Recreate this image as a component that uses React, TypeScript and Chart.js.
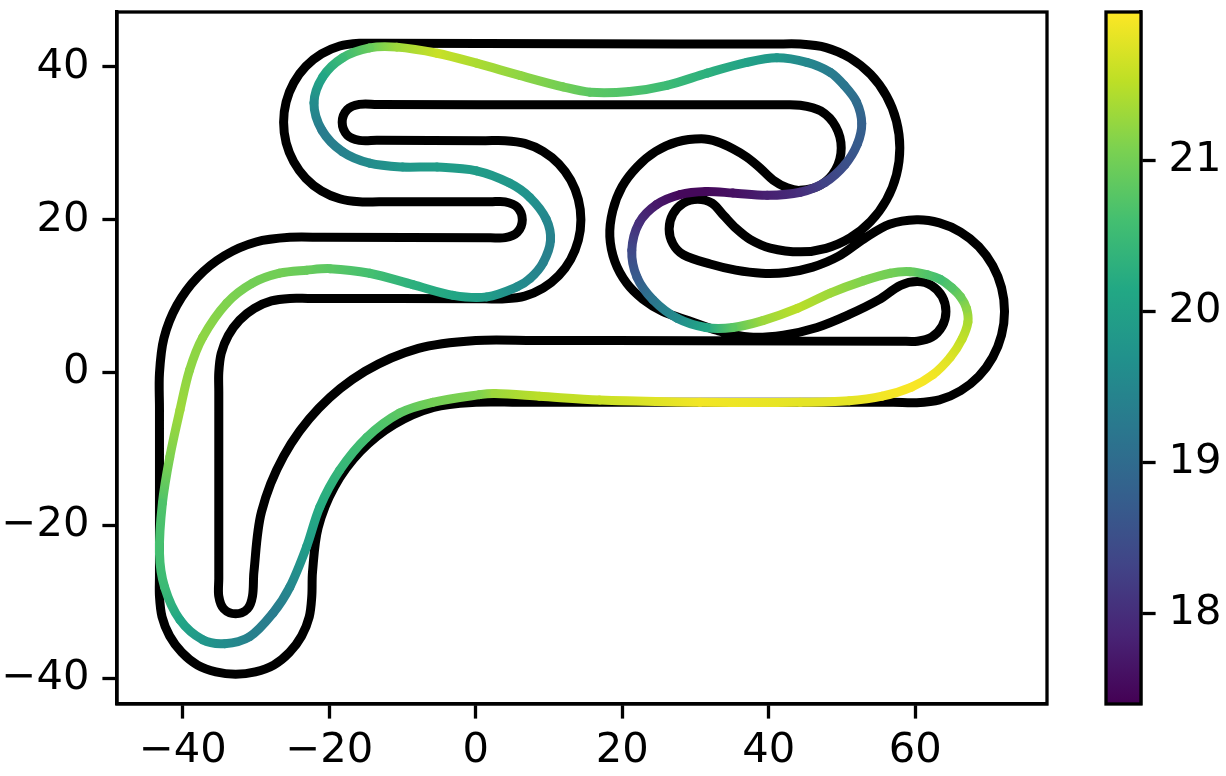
import React, { useEffect, useRef } from "react";
import { Chart, registerables } from "chart.js";

Chart.register(...registerables);

const outerX = [30,57,60.2,63.31,66.2,68.69,70.59,71.79,72.2,71.79,70.59,68.69,66.2,63.31,60.2,56.5,53,49.5,46,42.5,39,35.5,32,28.35,26.92,26.4,26.92,28.35,30.3,32.25,33.9,35.5,37.5,40.2,44.3,47.82,51.1,53.92,56.08,57.44,57.9,57.44,56.08,53.92,51.1,47.82,44.3,40.8,15,-13.2,-15.9,-18.58,-21.08,-23.22,-24.86,-25.9,-26.25,-25.9,-24.86,-23.22,-21.08,-18.58,-15.9,-13.2,2,4,5.66,6.35,5.66,4,2,-20.8,-25.4,-30.01,-34.3,-37.99,-40.82,-42.59,-43.2,-43.2,-43.2,-43.2,-42.85,-41.81,-40.15,-38,-35.49,-32.8,-30.11,-27.6,-25.45,-23.79,-22.75,-22.4,-22.3,-21.54,-19.31,-15.77,-11.15,-5.77,0,5.8,30];
const outerY = [-3.9,-3.9,-3.95,-3.59,-2.39,-0.49,2,4.89,8,11.11,14,16.49,18.39,19.59,20,19.4,17.5,15.2,13.8,13.1,13,13.4,14.2,15.42,16.85,18.8,20.75,22.18,22.7,22.18,20.5,18.9,17.4,16.3,15.8,16.26,17.62,19.78,22.6,25.88,29.4,32.92,36.2,39.02,41.18,42.54,43,43,43.05,43.1,43.1,42.75,41.71,40.07,37.93,35.43,32.75,30.07,27.58,25.43,23.79,22.75,22.35,22.35,22.35,22.35,21.66,20,18.34,17.65,17.65,17.7,17.7,17.09,15.32,12.49,8.8,4.51,-0.1,-4.7,-26.6,-29.3,-31.99,-34.5,-36.65,-38.31,-39.2,-39.5,-39.2,-38.31,-36.65,-34.5,-31.99,-29.3,-26.1,-20.33,-14.95,-10.33,-6.79,-4.56,-3.9,-3.9,-3.9];

const innerX = [30,58,60.3,62.25,63.68,64.2,63.68,62.25,60.3,58,55,51,46.6,42,37.4,33,29,25.5,22.8,20.6,19,18.3,18.7,19.98,22,24.55,27.5,30.8,33,35.1,37,38.8,40.6,42.5,44.3,47.1,49.15,49.9,49.15,47.1,44.3,41.4,15,-13.5,-15.9,-17.56,-18.25,-17.56,-15.9,-13.5,1.3,4,6.68,9.18,11.32,12.96,14,14.35,14,12.96,11.32,9.18,6.68,4,1.3,-22.9,-25.4,-27.91,-30.25,-32.26,-33.8,-34.77,-35.1,-35.1,-35.1,-35.1,-34.43,-32.8,-31.17,-30.5,-30.3,-29.27,-26.24,-21.43,-15.15,-7.84,0,8,30];
const innerY = [4.15,4.1,4.1,4.62,6.05,8,9.95,11.38,11.9,11.4,9.5,7.6,5.9,4.9,4.65,5.5,6.8,8,9.6,11.7,14.5,17.8,21.2,24.35,26.9,28.93,30.2,30.6,30.2,29.3,28.2,26.8,25.2,24.2,23.85,24.55,26.6,29.4,32.2,34.25,35,35.05,35.05,35.1,35.1,34.41,32.75,31.09,30.4,30.4,30.35,30.35,30,28.96,27.32,25.18,22.68,20,17.32,14.82,12.68,11.04,10,9.65,9.65,9.7,9.7,9.37,8.4,6.86,4.85,2.51,0,-2.5,-27,-29.3,-30.93,-31.6,-30.93,-29.3,-26.1,-18.26,-10.95,-4.67,0.14,3.17,4.2,4.2,4.15];

const raceX = [30.6,44.3,51,55.5,59.5,62.4,64.8,66.4,67.2,67,66.2,65,63.4,61.7,59.3,56.6,52.9,48.4,43.9,39.2,35.1,31.4,27.5,24.2,22,21.3,22.3,24.7,27.9,31.4,35.1,39.8,44.3,47.7,50.4,52.1,52.7,52,50.3,48.4,45.2,41.1,37,31.6,26.1,21,15.6,11.9,6,0.1,-5.3,-10.8,-14.5,-18.2,-20.9,-22.1,-21,-18.2,-14.5,-10,-5.3,0.1,4.6,7.4,9.6,10.2,9.2,7.4,5.6,1.5,-3.1,-8.6,-14.5,-19.9,-23.1,-26.8,-30.5,-34,-37.3,-39.1,-40.4,-41.8,-42.8,-43.2,-42.5,-40.4,-37.3,-34.3,-30.9,-27.7,-25.4,-23.1,-21.3,-18.6,-14.9,-10.4,-5.9,0.5,2.6,8.7,16.9,30.6];
const raceY = [-3.9,-3.9,-3.7,-3.1,-1.9,-0.3,2,4.4,6.6,8.4,9.9,11.1,12.2,12.8,13.2,13,12,10.4,8.4,6.8,5.9,5.9,7.1,9.5,12.5,16,19.6,22,23.3,23.7,23.5,23.2,23.6,24.9,27.2,29.9,32.6,35.4,37.6,39.3,40.6,41.2,40.6,39.2,37.6,36.8,36.7,37.4,38.9,40.5,41.8,42.6,42.5,41.2,38.7,35.3,31.7,28.9,27.4,26.9,26.9,26.4,24.8,22.9,20.1,17.3,14.4,12.3,11.2,9.9,10.1,11.5,13,13.6,13.4,13,11.7,9.1,4.6,0.3,-4.9,-11.1,-17.1,-23.6,-28.1,-32.4,-35,-35.5,-34.6,-31.5,-28.1,-22.8,-17.6,-12.8,-8.5,-5.3,-3.9,-2.9,-2.75,-3.1,-3.6,-3.9];
const raceSpeed = [21.9,21.8,21.8,21.9,21.95,21.9,21.75,21.55,21.4,21.2,20.95,20.75,20.6,20.7,20.9,21,21.1,21.3,21.5,21.3,20.8,20.1,19.6,19.2,18.7,18.4,18,17.7,17.5,17.5,17.6,17.8,18,18.3,18.5,18.7,18.8,19,19.2,19.3,19.5,19.8,20,20.3,20.5,20.7,20.8,21,21.2,21.4,21.6,21.3,20.9,20.5,20.1,19.6,19.3,19.4,19.6,19.8,19.9,19.9,19.8,19.7,19.5,19.4,19.4,19.5,19.6,19.9,20.1,20.3,20.6,20.8,20.9,21,21,21.1,21.2,21.2,21.3,21.1,20.7,20.6,20.5,20.1,19.8,19.6,19.4,19.3,19.5,19.9,20.2,20.4,20.6,20.8,21,21.1,21.3,21.5,21.6,21.9];

const xRange = [-49, 78];
const yRange = [-43.4, 47.2];
const speedRange = [17.4, 21.98];
const colorbarTicks = [18, 19, 20, 21];

const viridis = [
  [68,1,84],[72,36,117],[65,68,135],[53,95,141],[42,120,142],[33,145,140],
  [34,168,132],[68,191,112],[122,209,81],[189,223,38],[253,231,37],
];

function speedColor(v: number): string {
  const t = Math.min(1, Math.max(0, (v - speedRange[0]) / (speedRange[1] - speedRange[0])));
  const f = t * (viridis.length - 1);
  const i = Math.min(viridis.length - 2, Math.floor(f));
  const r = f - i;
  const c = viridis[i].map((a, k) => Math.round(a + (viridis[i + 1][k] - a) * r));
  return `rgb(${c[0]},${c[1]},${c[2]})`;
}

const toPts = (xs: number[], ys: number[]) => xs.map((x, i) => ({ x, y: ys[i] }));
const fmt = (v: any) => String(v).replace("-", "\u2212");
const FONT = { family: "'DejaVu Sans'", size: 41.67 };
const TENSION = 0.33;

const noMargins = (s: any) => {
  s.paddingTop = 0;
  s.paddingBottom = 0;
  s.paddingLeft = 0;
  s.paddingRight = 0;
};

const frame = {
  id: "frame",
  afterDatasetsDraw(chart: any) {
    const { ctx, chartArea: a } = chart;
    ctx.save();
    ctx.strokeStyle = "#000";
    ctx.lineWidth = 3.3;
    ctx.strokeRect(a.left, a.top, a.right - a.left, a.bottom - a.top);
    ctx.restore();
  },
};

export default function App() {
  const mainRef = useRef<HTMLCanvasElement>(null);
  const barRef = useRef<HTMLCanvasElement>(null);

  useEffect(() => {
    const mainCtx = mainRef.current!.getContext("2d")!;
    const main = new Chart(mainCtx, {
      type: "scatter",
      data: {
        datasets: [
          {
            label: "race line",
            data: toPts(raceX, raceY),
            showLine: true,
            pointRadius: 0,
            tension: TENSION,
            borderWidth: 9,
            borderColor: speedColor(20),
            borderCapStyle: "round",
            borderJoinStyle: "round",
            order: 0,
            segment: {
              borderColor: (c: any) => {
                const g = mainCtx.createLinearGradient(c.p0.x, c.p0.y, c.p1.x, c.p1.y);
                g.addColorStop(0, speedColor(raceSpeed[c.p0DataIndex]));
                g.addColorStop(1, speedColor(raceSpeed[c.p1DataIndex]));
                return g;
              },
            },
          },
          {
            label: "outer",
            data: toPts(outerX, outerY),
            showLine: true,
            pointRadius: 0,
            tension: TENSION,
            borderWidth: 9,
            borderColor: "#000",
            borderCapStyle: "round",
            borderJoinStyle: "round",
            order: 1,
          },
          {
            label: "inner",
            data: toPts(innerX, innerY),
            showLine: true,
            pointRadius: 0,
            tension: TENSION,
            borderWidth: 9,
            borderColor: "#000",
            borderCapStyle: "round",
            borderJoinStyle: "round",
            order: 2,
          },
        ] as any,
      },
      options: {
        animation: false,
        responsive: false,
        devicePixelRatio: 1,
        layout: { padding: { left: 0, top: 12, right: 179, bottom: 0 } },
        plugins: { legend: { display: false }, tooltip: { enabled: false } },
        scales: {
          x: {
            type: "linear",
            min: xRange[0],
            max: xRange[1],
            afterFit: (s: any) => { s.height = 72; noMargins(s); },
            grid: { drawOnChartArea: false, tickLength: 14.6, tickWidth: 3.3, tickColor: "#000" },
            border: { color: "#000", width: 3.3 },
            ticks: { stepSize: 20, includeBounds: false, color: "#000", font: FONT, padding: 8, maxRotation: 0, callback: fmt },
          },
          y: {
            type: "linear",
            min: yRange[0],
            max: yRange[1],
            afterFit: (s: any) => { s.width = 117; noMargins(s); },
            grid: { drawOnChartArea: false, tickLength: 14.6, tickWidth: 3.3, tickColor: "#000" },
            border: { color: "#000", width: 3.3 },
            ticks: { stepSize: 20, includeBounds: false, color: "#000", font: FONT, padding: 13, callback: fmt },
          },
        },
      } as any,
      plugins: [frame],
    });

    const bar = new Chart(barRef.current!.getContext("2d")!, {
      type: "bar",
      data: {
        labels: ["speed"],
        datasets: [
          {
            data: [[speedRange[0], speedRange[1]]],
            barPercentage: 1,
            categoryPercentage: 1,
            backgroundColor: (c: any) => {
              const a = c.chart.chartArea;
              if (!a) return "#21918c";
              const g = c.chart.ctx.createLinearGradient(0, a.bottom, 0, a.top);
              viridis.forEach((v, i) => g.addColorStop(i / (viridis.length - 1), `rgb(${v[0]},${v[1]},${v[2]})`));
              return g;
            },
          },
        ] as any,
      },
      options: {
        animation: false,
        responsive: false,
        devicePixelRatio: 1,
        layout: { padding: { left: 46, top: 12, right: 0, bottom: 72 } },
        plugins: { legend: { display: false }, tooltip: { enabled: false } },
        scales: {
          x: { display: false },
          y: {
            type: "linear",
            position: "right",
            min: speedRange[0],
            max: speedRange[1],
            afterFit: (s: any) => { s.width = 85; noMargins(s); },
            afterBuildTicks: (s: any) => { s.ticks = colorbarTicks.map((value) => ({ value })); },
            grid: { drawOnChartArea: false, tickLength: 14.6, tickWidth: 3.3, tickColor: "#000" },
            border: { color: "#000", width: 3.3 },
            ticks: { color: "#000", font: FONT, padding: 13 },
          },
        },
      } as any,
      plugins: [frame],
    });

    return () => {
      main.destroy();
      bar.destroy();
    };
  }, []);

  return (
    <div style={{ position: "absolute", left: 0, top: 0, width: 1226, height: 776, background: "#fff", overflow: "hidden" }}>
      <canvas ref={mainRef} width={1226} height={776} style={{ position: "absolute", left: 0, top: 0, width: 1226, height: 776 }} />
      <canvas ref={barRef} width={166} height={776} style={{ position: "absolute", left: 1060, top: 0, width: 166, height: 776 }} />
    </div>
  );
}
